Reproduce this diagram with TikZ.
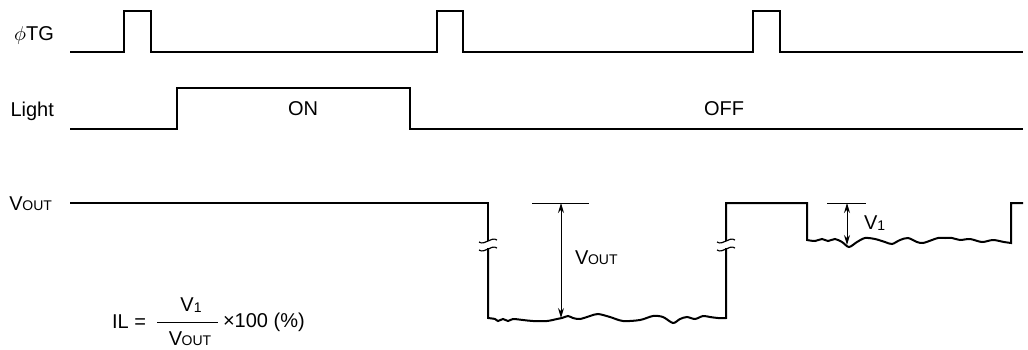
\documentclass[tikz,border=0pt]{standalone}
\usepackage{fontspec}
\setmainfont{Liberation Sans}
\usetikzlibrary{arrows.meta}
\newcommand{\vout}{V\kern-0.2pt{\fontsize{7}{8}\selectfont OUT}}
\newcommand{\vone}{V\raisebox{-0.8pt}{\fontsize{7}{8}\selectfont 1}}
\tikzset{
  sig/.style={line width=1pt},
  dim/.style={line width=0.5pt},
  dimarrow/.style={line width=0.5pt,{Stealth[length=5pt,width=3pt]}-{Stealth[length=5pt,width=3pt]}},
  brk/.style={line width=0.6pt}
}

\begin{document}
\begin{tikzpicture}[x=0.5pt,y=-0.5pt,font=\fontsize{10}{12}\selectfont]
    \useasboundingbox (0,0) rectangle (1028,349);
    \node[anchor=base east] (tg) at (61,40) {$\phi$TG};
    \node[anchor=base east] (light) at (61,116) {Light};
    \node[anchor=base east] (vo) at (59,210) {\vout};
    \draw[sig] (70,52) -- (124,52) -- (124,11) -- (151,11) -- (151,52)
      -- (437,52) -- (437,11) -- (463,11) -- (463,52)
      -- (753,52) -- (753,11) -- (780,11) -- (780,52) -- (1023,52);
    \draw[sig] (70,129) -- (177,129) -- (177,88) -- (410,88) -- (410,129) -- (1023,129);
    \node (on) at (303,109) {ON};
    \node (off) at (724,109) {OFF};
    \draw[sig] (70,203) -- (488,203) -- (488,241);
    \draw[sig] (488,248) -- (488,318) -- plot[smooth] coordinates {(488,318) (495,319) (498,321)
      (503,319) (508,321) (513,319) (523,320) (533,321) (547,321) (557,319) (562,318)
      (568,316) (573,318) (580,319) (590,316) (598,314) (610,317) (623,321) (640,320)
      (653,316) (663,317) (673,323) (680,319) (687,317) (695,319) (703,316) (710,317)
      (718,318) (726,318)} -- (726,248);
    \draw[sig] (726,241) -- (726,203) -- (807,203) -- (807,240) -- plot[smooth] coordinates {(807,240)
      (815,241) (822,239) (828,241) (835,239) (842,242) (849,247) (857,242) (865,238)
      (875,239) (885,242) (892,244) (900,240) (908,238) (917,242) (923,243) (932,240)
      (938,238) (945,238) (952,238) (960,240) (970,239) (982,242) (993,240) (1004,242)
      (1011,243)} -- (1011,203) -- (1023,203);
    \foreach \x in {488,726} {
      \draw[brk] (\x-9,242) .. controls (\x-3,246) and (\x+3,236) .. (\x+9,240);
      \draw[brk] (\x-9,250) .. controls (\x-3,254) and (\x+3,244) .. (\x+9,248);
    }
    \coordinate (vtop) at (561,203);
    \coordinate (vbot) at (561,318);
    \draw[dim] (532,203) -- (589,203);
    \draw[dimarrow] (vtop) -- (vbot);
    \node[anchor=west] (voutlab) at (568,258) {\vout};
    \coordinate (v1top) at (847,203);
    \coordinate (v1bot) at (847,245);
    \draw[dim] (827,203) -- (866,203);
    \draw[dimarrow] (v1top) -- (v1bot);
    \node[anchor=west] (v1lab) at (857,223) {\vone};
    \node[anchor=west] (il) at (105,322) {IL =};
    \coordinate (barl) at (157,322);
    \coordinate (barr) at (218,322);
    \draw[dim] (barl) -- (barr);
    \node (num) at (191,305) {\vone};
    \node (den) at (190,339) {\vout};
    \node[anchor=west] (times) at (216,322) {×100 (\%)};
\end{tikzpicture}
\end{document}
